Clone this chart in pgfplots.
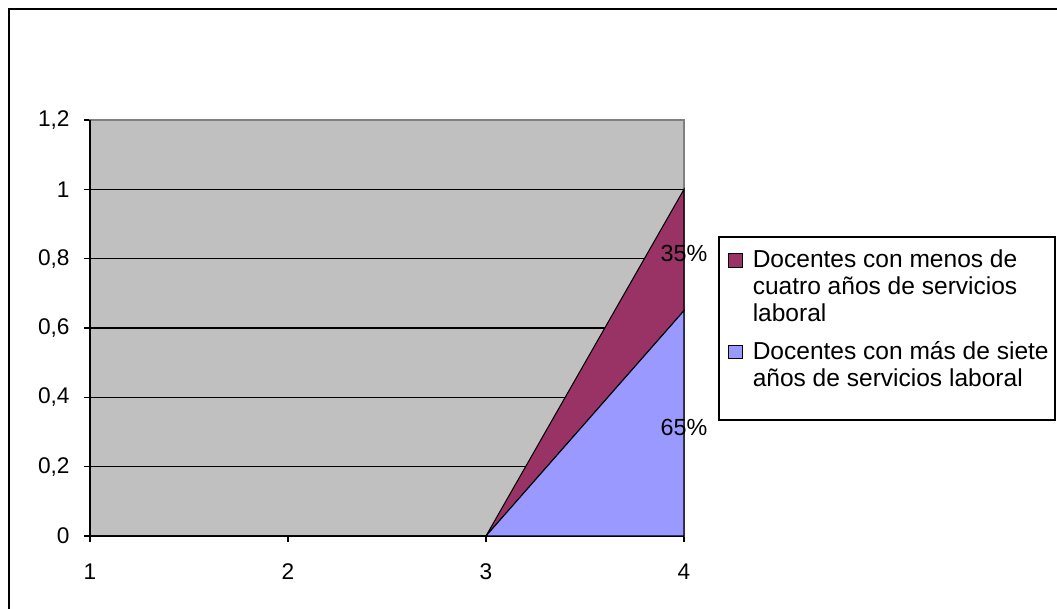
\documentclass[border=0pt]{standalone}
\usepackage{pgfplots}
\pgfplotsset{compat=1.18}
\usepackage{fontspec}
\setmainfont{Liberation Sans}
\definecolor{bggray}{RGB}{192,192,192}
\definecolor{framegray}{RGB}{128,128,128}
\definecolor{maroonC}{RGB}{153,51,102}
\definecolor{blueC}{RGB}{153,153,255}
\begin{document}
\fontsize{17}{20.25}\selectfont
\begin{tikzpicture}
\path[use as bounding box] (0,0) rectangle (792.75pt,456.75pt);
\fill[white] (0,0) rectangle (792.75pt,456.75pt);
% outer frame (left and top edges visible)
\draw[line width=1.6pt] (6.75pt,0) -- (6.75pt,450pt) -- (792.75pt,450pt);
\begin{axis}[
  at={(67.5pt,54.75pt)}, anchor=south west,
  scale only axis, width=445.5pt, height=312pt,
  clip=false,
  xmin=1, xmax=4, ymin=0, ymax=1.2,
  xtick={1,2,3,4}, ytick={0,0.2,0.4,0.6,0.8,1,1.2},
  xtick pos=left, ytick pos=left,
  extra y ticks={0.2,0.4,0.6,0.8,1},
  extra y tick labels={},
  extra y tick style={grid=major, major tick length=0pt},
  major grid style={black, line width=1pt},
  axis background/.style={fill=bggray},
  axis line style={framegray, line width=0.8pt},
  tick style={black, line width=0.9pt},
  tick align=outside, major tick length=4.5pt,
  /pgf/number format/use comma,
  /pgf/number format/assume math mode=true,
  ticklabel style={font=\fontsize{17}{20}\selectfont},
  xticklabel style={yshift=-10.5pt},
  yticklabel style={xshift=-5pt},
  stack plots=y,
  reverse legend,
  legend cell align=left,
  legend style={at={(1.074,0.695)}, anchor=north west, draw=none, fill=none,
    font=\fontsize{18.4}{20.25}\selectfont, row sep=8.25pt, inner sep=0pt,
    nodes={align=left}, column sep=0pt},
]
\addplot[fill=blueC, draw=black, line width=0.8pt,
  legend image code/.code={\draw[fill=blueC, draw=black, line width=0.8pt] (0pt,5.1pt) rectangle (10pt,15.1pt); \path[draw=none, fill=none] (0pt,10pt) -- (16pt,10pt);}]
  coordinates {(1,0) (2,0) (3,0) (4,0.65)} \closedcycle;
\addlegendentry{Docentes con más de siete\\años de servicios laboral}
\addplot[fill=maroonC, draw=black, line width=0.8pt,
  legend image code/.code={\draw[fill=maroonC, draw=black, line width=0.8pt] (0pt,15.2pt) rectangle (10pt,25.2pt); \path[draw=none, fill=none] (0pt,20pt) -- (16pt,20pt);}]
  coordinates {(1,0) (2,0) (3,0) (4,0.35)} \closedcycle;
\addlegendentry{Docentes con menos de\\cuatro años de servicios\\laboral}
\draw[black, line width=0.9pt] (rel axis cs:0,1) -- (rel axis cs:0,0) -- (rel axis cs:1,0);
\coordinate (p35) at (axis cs:4,0.816);
\coordinate (p65) at (axis cs:4,0.312);
\end{axis}
\node[font=\fontsize{17.5}{20}\selectfont] at (p35) {35\%};
\node[font=\fontsize{17.5}{20}\selectfont] at (p65) {65\%};
\draw[line width=1.2pt] (539.25pt,141.75pt) rectangle (791.25pt,279pt);
\end{tikzpicture}
\end{document}
